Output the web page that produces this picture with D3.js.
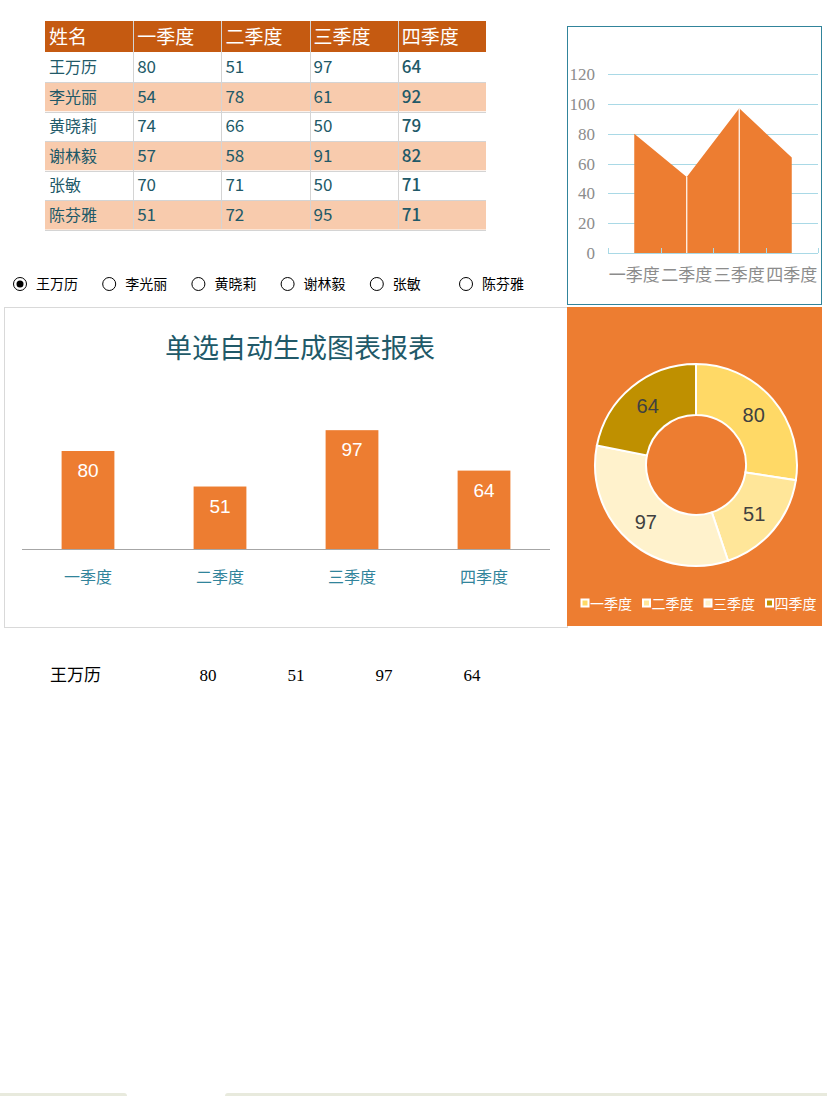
<!DOCTYPE html>
<html>
<head>
<meta charset="utf-8">
<script src="https://cdn.jsdelivr.net/npm/d3@7"></script>
<style>
  html, body { margin: 0; padding: 0; background: #fff; }
  svg { display: block; }
</style>
</head>
<body>
<div id="chart"></div>
<script>
// data
const names = ['王万历', '李光丽', '黄晓莉', '谢林毅', '张敏', '陈芬雅'];
const quarters = ['一季度', '二季度', '三季度', '四季度'];
const q1 = [80, 54, 74, 57, 70, 51];
const q2 = [51, 78, 66, 58, 71, 72];
const q3 = [97, 61, 50, 91, 50, 95];
const q4 = [64, 92, 79, 82, 71, 71];
const headers = ['姓名', '一季度', '二季度', '三季度', '四季度'];
const areaTicks = [0, 20, 40, 60, 80, 100, 120];
const selected = 0;

const sel = [q1[selected], q2[selected], q3[selected], q4[selected]];
const qData = quarters.map((q, i) => ({ q, v: sel[i] }));

const W = 827, H = 1096;
const sans = '"Noto Sans CJK SC", "Microsoft YaHei", sans-serif';
const serif = '"Liberation Serif", "Noto Sans CJK SC", serif';

const svg = d3.select('#chart').append('svg')
  .attr('width', W).attr('height', H);

// ---- Table
const colX = d3.scaleBand().domain(headers).range([45, 486]);
const rowY = d3.scaleBand().domain(names).range([52.5, 229.5]);
const table = svg.append('g');

table.append('rect')
  .attr('x', colX.range()[0]).attr('y', 21)
  .attr('width', colX.range()[1] - colX.range()[0]).attr('height', 31)
  .attr('fill', '#C55A11');

const rows = table.selectAll('g.row')
  .data(names.map((n, i) => ({ n, i, vals: [q1[i], q2[i], q3[i], q4[i]] })))
  .join('g').attr('class', 'row');

rows.append('rect')
  .attr('x', colX.range()[0]).attr('y', d => rowY(d.n))
  .attr('width', colX.range()[1] - colX.range()[0]).attr('height', rowY.bandwidth())
  .attr('fill', d => d.i % 2 ? '#F8CBAD' : '#fff');

// grid lines
table.selectAll('line.h')
  .data(names)
  .join('line')
  .attr('x1', 45).attr('x2', 486)
  .attr('y1', d => Math.round(rowY(d) + rowY.bandwidth()) + 0.5)
  .attr('y2', d => Math.round(rowY(d) + rowY.bandwidth()) + 0.5)
  .attr('stroke', '#D4D4D4');
table.selectAll('line.v')
  .data(headers.slice(1))
  .join('line')
  .attr('x1', d => Math.round(colX(d)) + 0.5).attr('x2', d => Math.round(colX(d)) + 0.5)
  .attr('y1', 21).attr('y2', 229)
  .attr('stroke', '#D4D4D4');

table.selectAll('text.hd')
  .data(headers)
  .join('text')
  .attr('x', d => colX(d) + 4).attr('y', 44)
  .attr('fill', '#fff')
  .attr('font-family', sans).attr('font-size', 19)
  .text(d => d);

rows.append('text')
  .attr('x', colX('姓名') + 4).attr('y', d => rowY(d.n) + rowY.bandwidth() / 2 + 6)
  .attr('fill', '#215968')
  .attr('font-family', sans).attr('font-size', 16)
  .text(d => d.n);

rows.selectAll('text.v')
  .data(d => d.vals.map((v, j) => ({ v, j, n: d.n })))
  .join('text')
  .attr('x', d => colX(headers[d.j + 1]) + 4)
  .attr('y', d => rowY(d.n) + rowY.bandwidth() / 2 + 6)
  .attr('fill', '#215968')
  .attr('font-family', sans).attr('font-size', 17)
  .attr('font-weight', d => d.j === 3 ? 500 : 400)
  .text(d => d.v);

// ---- Area chart
const ag = svg.append('g');
ag.append('rect')
  .attr('x', 567.5).attr('y', 26.5).attr('width', 254).attr('height', 278)
  .attr('fill', '#fff').attr('stroke', '#31849B');

const ax = d3.scaleBand().domain(quarters).range([608, 818]);
const ay = d3.scaleLinear().domain([0, 120]).range([253, 74]);

ag.selectAll('line.grid')
  .data(areaTicks)
  .join('line')
  .attr('x1', 608).attr('x2', 818)
  .attr('y1', d => Math.round(ay(d)) + 0.5).attr('y2', d => Math.round(ay(d)) + 0.5)
  .attr('stroke', '#A9D9E6');

const area = d3.area()
  .x(d => ax(d.q) + ax.bandwidth() / 2)
  .y0(ay(0))
  .y1(d => ay(d.v));
ag.append('path').datum(qData).attr('d', area).attr('fill', '#ED7D31');

ag.selectAll('line.drop')
  .data(qData.slice(1, 3))
  .join('line')
  .attr('x1', d => ax(d.q) + ax.bandwidth() / 2).attr('x2', d => ax(d.q) + ax.bandwidth() / 2)
  .attr('y1', d => ay(d.v)).attr('y2', ay(0))
  .attr('stroke', '#fff').attr('stroke-width', 1.2);

// category tick marks
ag.selectAll('line.tk')
  .data(quarters.concat(['end']))
  .join('line')
  .attr('x1', (d, i) => Math.round(608 + i * ax.step()) + 0.5)
  .attr('x2', (d, i) => Math.round(608 + i * ax.step()) + 0.5)
  .attr('y1', ay(0) - 5).attr('y2', ay(0))
  .attr('stroke', '#A9D9E6');
ag.append('line')
  .attr('x1', 608).attr('x2', 818)
  .attr('y1', Math.round(ay(0)) + 0.5).attr('y2', Math.round(ay(0)) + 0.5)
  .attr('stroke', '#A9D9E6');

ag.selectAll('text.yl')
  .data(areaTicks)
  .join('text')
  .attr('x', 595).attr('y', d => ay(d) + 6)
  .attr('text-anchor', 'end')
  .attr('fill', '#8C8C8C')
  .attr('font-family', serif).attr('font-size', 17)
  .text(d => d);

ag.selectAll('text.xl')
  .data(quarters)
  .join('text')
  .attr('x', d => ax(d) + ax.bandwidth() / 2).attr('y', 281)
  .attr('text-anchor', 'middle')
  .attr('fill', '#8C8C8C')
  .attr('font-family', sans).attr('font-size', 17)
  .text(d => d);

// ---- Radio buttons
const rx = d3.scalePoint().domain(names).range([20, 466]);
const radios = svg.append('g').selectAll('g')
  .data(names)
  .join('g')
  .attr('transform', d => `translate(${rx(d)},284)`);
radios.append('circle')
  .attr('r', 6.5).attr('fill', '#fff').attr('stroke', '#000');
radios.filter((d, i) => i === selected).append('circle')
  .attr('r', 3.5).attr('fill', '#000');
radios.append('text')
  .attr('x', 16).attr('y', 5)
  .attr('font-family', sans).attr('font-size', 14)
  .attr('fill', '#000')
  .text(d => d);

// ---- Bar chart
const bg = svg.append('g');
bg.append('rect')
  .attr('x', 4.5).attr('y', 307.5).attr('width', 563).attr('height', 320)
  .attr('fill', '#fff').attr('stroke', '#D9D9D9');
bg.append('text')
  .attr('x', 300).attr('y', 358)
  .attr('text-anchor', 'middle')
  .attr('fill', '#215968')
  .attr('font-family', sans).attr('font-size', 27)
  .text('单选自动生成图表报表');

const bx = d3.scaleBand().domain(quarters).range([22, 550]).paddingInner(0.6).paddingOuter(0.3);
const by = d3.scaleLinear().domain([0, 100]).range([549, 426.5]);

bg.selectAll('rect.bar')
  .data(qData)
  .join('rect')
  .attr('x', d => bx(d.q)).attr('y', d => by(d.v))
  .attr('width', bx.bandwidth()).attr('height', d => by(0) - by(d.v))
  .attr('fill', '#ED7D31');
bg.append('line')
  .attr('x1', 22).attr('x2', 550)
  .attr('y1', 549.5).attr('y2', 549.5)
  .attr('stroke', '#A6A6A6');
bg.selectAll('text.bl')
  .data(qData)
  .join('text')
  .attr('x', d => bx(d.q) + bx.bandwidth() / 2).attr('y', d => by(d.v) + 26)
  .attr('text-anchor', 'middle')
  .attr('fill', '#fff')
  .attr('font-family', '"Liberation Sans", Arial, sans-serif').attr('font-size', 19)
  .text(d => d.v);
bg.selectAll('text.bx')
  .data(quarters)
  .join('text')
  .attr('x', d => bx(d) + bx.bandwidth() / 2).attr('y', 583)
  .attr('text-anchor', 'middle')
  .attr('fill', '#31849B')
  .attr('font-family', sans).attr('font-size', 16)
  .text(d => d);

// ---- Donut
const dg = svg.append('g');
dg.append('rect')
  .attr('x', 567).attr('y', 307).attr('width', 255).attr('height', 319)
  .attr('fill', '#ED7D31');
const donutColor = d3.scaleOrdinal().domain(quarters)
  .range(['#FFD966', '#FFE699', '#FFF2CC', '#BF9000']);
const pie = d3.pie().value(d => d.v).sort(null);
const arc = d3.arc().innerRadius(50).outerRadius(101);
const labelArc = d3.arc().innerRadius(76).outerRadius(76);
const donut = dg.append('g').attr('transform', 'translate(696,465)');
donut.selectAll('path')
  .data(pie(qData))
  .join('path')
  .attr('d', arc)
  .attr('fill', d => donutColor(d.data.q))
  .attr('stroke', '#fff').attr('stroke-width', 2);
donut.selectAll('text')
  .data(pie(qData))
  .join('text')
  .attr('transform', d => `translate(${labelArc.centroid(d)})`)
  .attr('dy', 7)
  .attr('text-anchor', 'middle')
  .attr('fill', '#404040')
  .attr('font-family', '"Liberation Sans", Arial, sans-serif').attr('font-size', 20)
  .text(d => d.data.v);

const lx = d3.scaleBand().domain(quarters).range([580, 826]);
const leg = dg.selectAll('g.leg')
  .data(quarters)
  .join('g')
  .attr('transform', d => `translate(${lx(d)},604)`);
leg.append('rect')
  .attr('x', 1.5).attr('y', -4.5).attr('width', 7).attr('height', 7)
  .attr('fill', d => donutColor(d)).attr('stroke', '#fff').attr('stroke-width', 2);
leg.append('text')
  .attr('x', 10).attr('y', 5)
  .attr('fill', '#fff')
  .attr('font-family', sans).attr('font-size', 14)
  .text(d => d);

// ---- Selected row echo
const eg = svg.append('g');
eg.append('text')
  .attr('x', 50).attr('y', 681)
  .attr('font-family', serif).attr('font-size', 17)
  .attr('fill', '#000')
  .text(names[selected]);
const ex = d3.scalePoint().domain(quarters).range([208, 472]);
eg.selectAll('text.ev')
  .data(qData)
  .join('text')
  .attr('x', d => ex(d.q)).attr('y', 681)
  .attr('text-anchor', 'middle')
  .attr('font-family', serif).attr('font-size', 17)
  .attr('fill', '#000')
  .text(d => d.v);

// ---- sheet tab strips
svg.append('rect').attr('x', -5).attr('y', 1093).attr('width', 132).attr('height', 10)
  .attr('rx', 3).attr('fill', '#E8EADD');
svg.append('rect').attr('x', 225).attr('y', 1093).attr('width', 610).attr('height', 10)
  .attr('rx', 3).attr('fill', '#E8EADD');
</script>
</body>
</html>
